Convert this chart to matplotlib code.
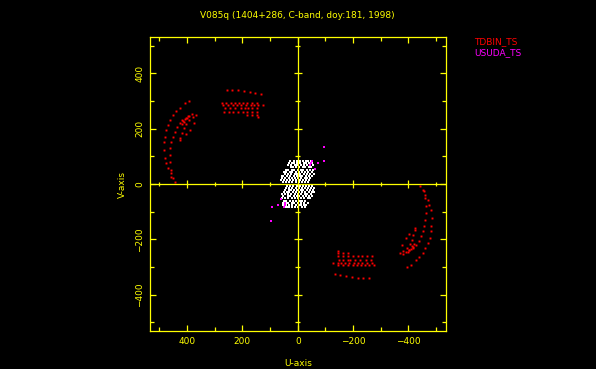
import numpy as np
import matplotlib
matplotlib.use('Agg')
import matplotlib.pyplot as plt

# uv points (upper half only, conjugates are plotted too), units of kilo-lambda
tdbin_u = [442, 451, 459, 469, 475, 481, 485, 482, 481, 477, 469, 460, 451, 439, 427, 409, 394,
           457, 459, 463, 463, 460, 457, 451, 445, 437, 427, 417, 403, 393, 381,
           424, 417, 412, 405, 394, 379, 369,
           424, 403, 391, 375,
           416, 409, 401, 420, 412, 398,
           256, 236, 216, 195, 174, 153, 134,
           274, 258, 242, 228, 213, 198, 182, 165, 146,
           270, 252, 234, 218, 204, 186, 170, 158, 144, 126,
           264, 246, 225, 206, 189, 180, 165, 149,
           267, 250, 234, 216, 198, 182, 165, 146,
           182, 165, 146, 144]
tdbin_v = [7, 22, 40, 58, 76, 94, 123, 153, 171, 195, 213, 231, 250, 264, 276, 292, 301,
           26, 51, 81, 105, 131, 153, 171, 189, 207, 220, 231, 240, 247, 253,
           165, 184, 203, 217, 230, 242, 250,
           159, 181, 195, 220,
           228, 235, 237, 217, 224, 246,
           340, 340, 340, 337, 334, 330, 324,
           293, 293, 293, 293, 293, 293, 293, 293, 293,
           285, 285, 285, 285, 285, 285, 285, 285, 285, 285,
           275, 275, 275, 275, 275, 275, 275, 275,
           260, 260, 260, 260, 260, 260, 260, 260,
           251, 251, 251, 243]

usuda_u = [-50, -47, -73, -94, -95, -61, -46]
usuda_v = [84, 77, 77, 83, 133, 53, 69]

# ground baselines (short, white)
ground_v = [82, 75, 67, 60, 52, 45, 37, 30, 22, 15, 7]
ground_u = [
    [-47, -38, -30, -20, -9, 2, 14, 27],
    [-52, -42, -31, -21, -8, 3, 12, 22, 31],
    [-55, -43, -34, -22, -13, 1, 10, 24, 36],
    [-49, -41, -27, -18, -6, 7, 17, 26],
    [-56, -45, -35, -20, -10, 0, 13, 22, 36, 44],
    [-52, -37, -28, -15, -4, 6, 19, 29, 41, 50],
    [-57, -46, -35, -24, -9, 2, 11, 25, 34, 47],
    [-51, -40, -30, -17, -7, 4, 15, 28, 39, 52, 58],
    [-45, -33, -25, -13, -2, 10, 20, 33, 45, 56],
    [-41, -30, -19, -8, 5, 16, 27, 38, 49, 60],
    [-38, -27, -16, -4, 8, 19, 31, 42, 53],
]

major_ticks = [-400, -200, 0, 200, 400]
minor_ticks = [-500, -300, -100, 100, 300, 500]

yellow = '#ffff00'
fs = 6.5

fig = plt.figure(figsize=(5.96, 3.69), dpi=100, facecolor='black')
ax = fig.add_axes([150 / 596, 38 / 369, 295.5 / 596, 294 / 369], facecolor='black')

# white ground points
gu, gv = [], []
for v, row in zip(ground_v, ground_u):
    gu += row
    gv += [v] * len(row)
gu = np.array(gu)
gv = np.array(gv)
ax.plot(np.concatenate([gu, -gu]), np.concatenate([gv, -gv]), 's', color='white',
        ms=1.5, mew=0, ls='none')

tu = np.array(tdbin_u)
tv = np.array(tdbin_v)
ax.plot(np.concatenate([tu, -tu]), np.concatenate([tv, -tv]), 's', color='#ff0000',
        ms=1.4, mew=0, ls='none')

su = np.array(usuda_u)
sv = np.array(usuda_v)
ax.plot(np.concatenate([su, -su]), np.concatenate([sv, -sv]), 's', color='#ff00ff',
        ms=1.6, mew=0, ls='none')

ax.set_xlim(534, -534)
ax.set_ylim(-531, 531)

# cross through origin with its own ticks
ax.axhline(0, color=yellow, lw=0.9)
ax.axvline(0, color=yellow, lw=0.9)
mt = [t for t in major_ticks if t != 0]
ax.vlines(mt, -15, 15, color=yellow, lw=0.9)
ax.vlines(minor_ticks, -9, 9, color=yellow, lw=0.9)
ax.hlines(mt, -15, 15, color=yellow, lw=0.9)
ax.hlines(minor_ticks, -9, 9, color=yellow, lw=0.9)

ax.set_xticks(major_ticks)
ax.set_yticks(major_ticks)
ax.set_xticks(minor_ticks, minor=True)
ax.set_yticks(minor_ticks, minor=True)
ax.set_xticklabels([str(t).replace('-', '\u2212') for t in major_ticks], fontsize=fs, color=yellow)
ax.set_yticklabels([str(t).replace('-', '\u2212') for t in major_ticks], fontsize=fs, color=yellow,
                   rotation=90, va='center')
ax.tick_params(which='both', direction='in', colors=yellow, top=True, right=True, width=0.9)
ax.tick_params(which='major', length=4.5, pad=4)
ax.tick_params(which='minor', length=3)
for s in ax.spines.values():
    s.set_color(yellow)
    s.set_linewidth(0.9)

ax.set_xlabel('U-axis', color=yellow, fontsize=fs, labelpad=10)
ax.set_ylabel('V-axis', color=yellow, fontsize=fs, labelpad=6)

fig.text(297.5 / 596, 1 - 16 / 369, 'V085q (1404+286, C-band, doy:181, 1998)',
         color=yellow, fontsize=fs, ha='center', va='center')
fig.text(474 / 596, 1 - 42 / 369, 'TDBIN_TS', color='#ff0000', fontsize=fs, va='center')
fig.text(474 / 596, 1 - 52.5 / 369, 'USUDA_TS', color='#ff00ff', fontsize=fs, va='center')

fig.savefig('out.png', dpi=100, facecolor='black')
